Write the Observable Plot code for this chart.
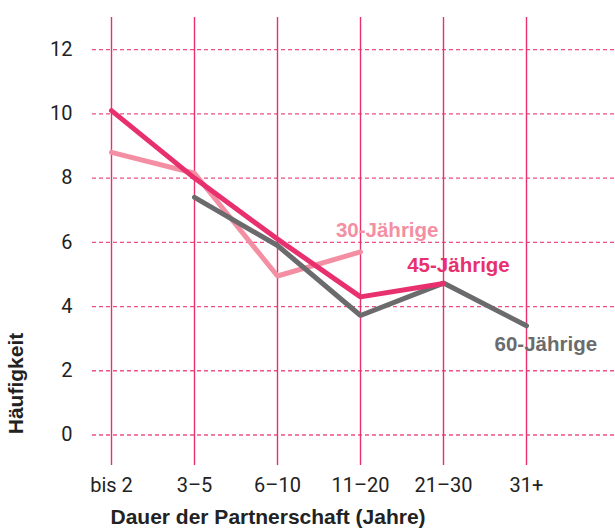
<!DOCTYPE html>
<html>
<head>
<meta charset="utf-8">
<script src="https://cdn.jsdelivr.net/npm/d3@7"></script>
<script src="https://cdn.jsdelivr.net/npm/@observablehq/plot@0.6"></script>
<style>
  html, body { margin: 0; padding: 0; background: #fff; }
  #chart svg { display: block; }
</style>
</head>
<body>
<div id="chart"></div>
<script>
const categories = ["bis 2", "3–5", "6–10", "11–20", "21–30", "31+"];
const yTicks = [0, 2, 4, 6, 8, 10, 12];

const series30 = [8.8, 8.15, 4.95, 5.7, null, null];
const series45 = [10.1, 8.0, 6.1, 4.3, 4.72, null];
const series60 = [null, 7.4, 5.9, 3.72, 4.73, 3.4];

const seriesNames = ["30-Jährige", "45-Jährige", "60-Jährige"];
const seriesColors = ["#f48fa3", "#e8306f", "#6b6b6d"];

const toRows = (vals, name) => vals
  .map((v, i) => ({cat: categories[i], value: v, series: name}))
  .filter(d => d.value != null);

const rows30 = toRows(series30, seriesNames[0]);
const rows45 = toRows(series45, seriesNames[1]);
const rows60 = toRows(series60, seriesNames[2]);

const font = "'Roboto', 'Liberation Sans', sans-serif";
const boldFont = "'Liberation Sans', 'Roboto', sans-serif";

const chart = Plot.plot({
  width: 615,
  height: 529,
  marginLeft: 92,
  marginRight: 0,
  marginTop: 17,
  marginBottom: 64,
  style: {fontFamily: font, fontSize: "20px", color: "#222", background: "#fff"},
  x: {type: "point", domain: categories, range: [110, 526], padding: 0},
  y: {domain: [-0.95, 13]},
  marks: [
    Plot.ruleY(yTicks, {stroke: "#ec4f86", strokeWidth: 1.3, strokeDasharray: "4,3"}),
    Plot.ruleX(categories, {stroke: "#e8306f", strokeWidth: 1.4}),
    Plot.axisY(yTicks, {tickSize: 0, tickPadding: 20, fontSize: 20, fill: "#222", label: null}),
    Plot.axisX(categories, {tickSize: 0, tickPadding: 12, fontSize: 20, fill: "#222", label: null}),
    Plot.line(rows30, {x: "cat", y: "value", stroke: seriesColors[0], strokeWidth: 5, strokeLinejoin: "miter"}),
    Plot.line(rows60, {x: "cat", y: "value", stroke: seriesColors[2], strokeWidth: 5, strokeLinejoin: "miter"}),
    Plot.line(rows45, {x: "cat", y: "value", stroke: seriesColors[1], strokeWidth: 5, strokeLinejoin: "miter"}),
    Plot.text(rows30.slice(-1), {x: "cat", y: "value", text: "series", fill: seriesColors[0], fontFamily: boldFont, fontWeight: "bold", fontSize: 20.5, textAnchor: "end", dx: 78, dy: -21}),
    Plot.text(rows45.slice(-1), {x: "cat", y: "value", text: "series", fill: seriesColors[1], fontFamily: boldFont, fontWeight: "bold", fontSize: 20.5, textAnchor: "middle", dx: 15, dy: -18}),
    Plot.text(rows60.slice(-1), {x: "cat", y: "value", text: "series", fill: seriesColors[2], fontFamily: boldFont, fontWeight: "bold", fontSize: 20.5, textAnchor: "start", dx: -32, dy: 19}),
    Plot.text(["Häufigkeit"], {frameAnchor: "bottom-left", text: d => d, rotate: -90, textAnchor: "middle", dx: -70, dy: -82, fontFamily: boldFont, fontWeight: "bold", fontSize: 21, fill: "#222"}),
    Plot.text(["Dauer der Partnerschaft (Jahre)"], {frameAnchor: "bottom-left", text: d => d, textAnchor: "start", dx: 18, dy: 58, fontFamily: boldFont, fontWeight: "bold", fontSize: 21, fill: "#222"})
  ]
});
document.getElementById("chart").appendChild(chart);
</script>
</body>
</html>
